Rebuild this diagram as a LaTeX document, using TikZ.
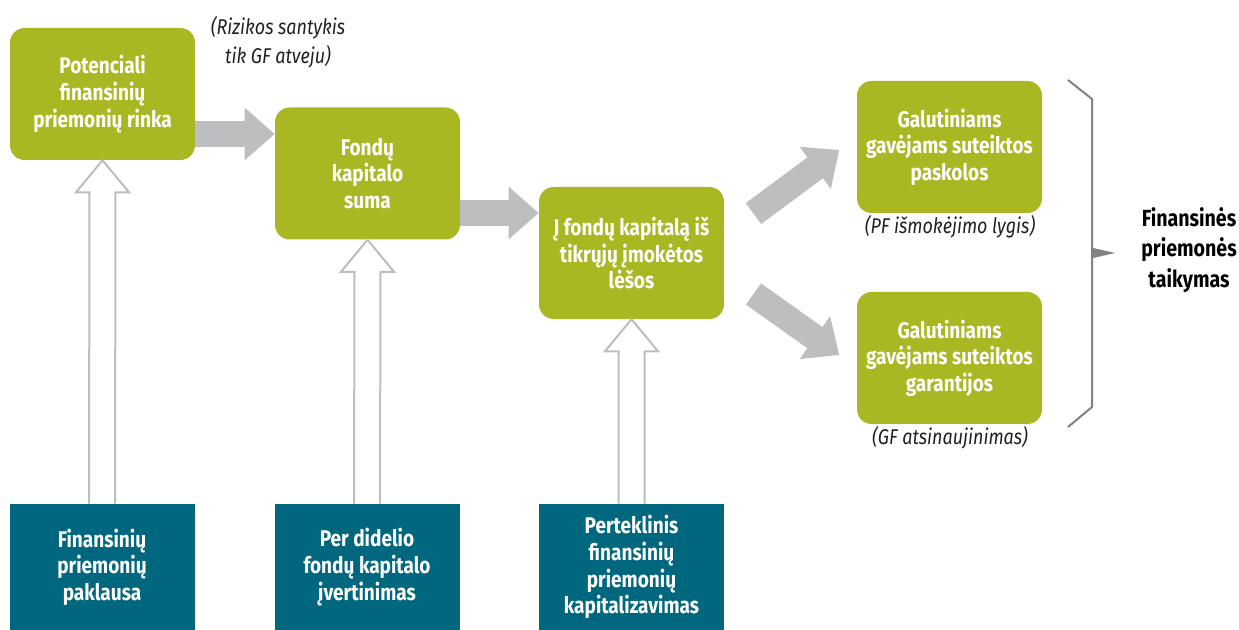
\documentclass[tikz,border=0pt]{standalone}
\usepackage{fontspec}
\setmainfont{Fira Sans}[FakeStretch=0.84]
\usetikzlibrary{arrows.meta,calc}
\definecolor{boxgreen}{HTML}{A9B822}
\definecolor{boxteal}{HTML}{00677F}
\definecolor{arrowgray}{HTML}{BCBEC0}
\definecolor{hollowgray}{HTML}{BDBDBD}
\definecolor{bracketgray}{HTML}{808285}
\definecolor{notegray}{HTML}{231F20}
\newcommand\hollowup[2]{%
  \draw[hollow] ($(#1.north)+(-13,0)$) -- ($(#2.south)+(-13,32)$) -- ($(#2.south)+(-26.5,32)$) -- (#2.south) -- ($(#2.south)+(26.5,32)$) -- ($(#2.south)+(13,32)$) -- ($(#1.north)+(13,0)$);}
\begin{document}
\begin{tikzpicture}[x=0.75pt,y=-0.75pt,
  gbox/.style={fill=boxgreen, rounded corners=11pt, minimum width=138.75pt, minimum height=99pt, text=white, font=\bfseries\fontsize{17}{20}\selectfont, align=center, inner sep=0pt},
  tbox/.style={fill=boxteal, minimum width=138.75pt, minimum height=94.5pt, text=white, font=\bfseries\fontsize{17}{20}\selectfont, align=center, inner sep=0pt},
  flow/.style={draw=arrowgray, line width=19.5pt, -{Triangle[length=22.5pt,width=38pt]}},
  hollow/.style={draw=hollowgray, line width=1.5pt, fill=white, line join=miter},
  note/.style={text=notegray, font=\itshape\fontsize{16}{22}\selectfont, align=center, inner sep=0pt},
  bracket/.style={draw=bracketgray, line width=1.5pt}
]
\useasboundingbox (0,0) rectangle (1239,630);

% green boxes
\node[gbox] (b1) at (102.5,94) {Potenciali\\finansinių\\priemonių rinka};
\node[gbox] (b2) at (367.5,173.5) {Fondų\\kapitalo\\suma};
\node[gbox] (b3) at (631.5,253) {Į fondų kapitalą iš\\tikrųjų įmokėtos\\lėšos};
\node[gbox] (b4) at (949.5,147) {Galutiniams\\gavėjams suteiktos\\paskolos};
\node[gbox] (b5) at (949.5,358) {Galutiniams\\gavėjams suteiktos\\garantijos};

% teal boxes
\node[tbox] (d1) at (102,567) {Finansinių\\priemonių\\paklausa};
\node[tbox] (d2) at (367,567) {Per didelio\\fondų kapitalo\\įvertinimas};
\node[tbox] (d3) at (631.5,567) {Perteklinis\\finansinių\\priemonių\\kapitalizavimas};

% hollow up arrows
\hollowup{d1}{b1}
\hollowup{d2}{b2}
\hollowup{d3}{b3}

% solid flow arrows
\coordinate (y1) at (0,134);
\coordinate (y2) at (0,213);
\draw[flow] (b1.east |- y1) -- (b2.west |- y1);
\draw[flow] (b2.east |- y2) -- (b3.west |- y2);
\coordinate (t1) at (753.5,213.5);
\coordinate (e1) at (839.3,150);
\coordinate (t2) at (753.5,294);
\coordinate (e2) at (839.3,355);
\draw[flow] (t1) -- (e1);
\draw[flow] (t2) -- (e2);

% notes
\node[note] (n1) at (278,42) {(Rizikos santykis\\tik GF atveju)};
\node[note] (n2) at (950,227) {(PF išmokėjimo lygis)};
\node[note] (n3) at (950,438) {(GF atsinaujinimas)};

% bracket
\draw[bracket] (1068,80) -- (1092,99) -- (1092,407) -- (1068,427);
\fill[bracketgray] (1091,247.5) -- (1115,253) -- (1091,258.5) -- cycle;
\node[font=\bfseries\fontsize{17.5}{23}\selectfont, text=black, align=center, inner sep=0pt] (ap) at (1189,250) {Finansinės\\priemonės\\taikymas};
\end{tikzpicture}
\end{document}
